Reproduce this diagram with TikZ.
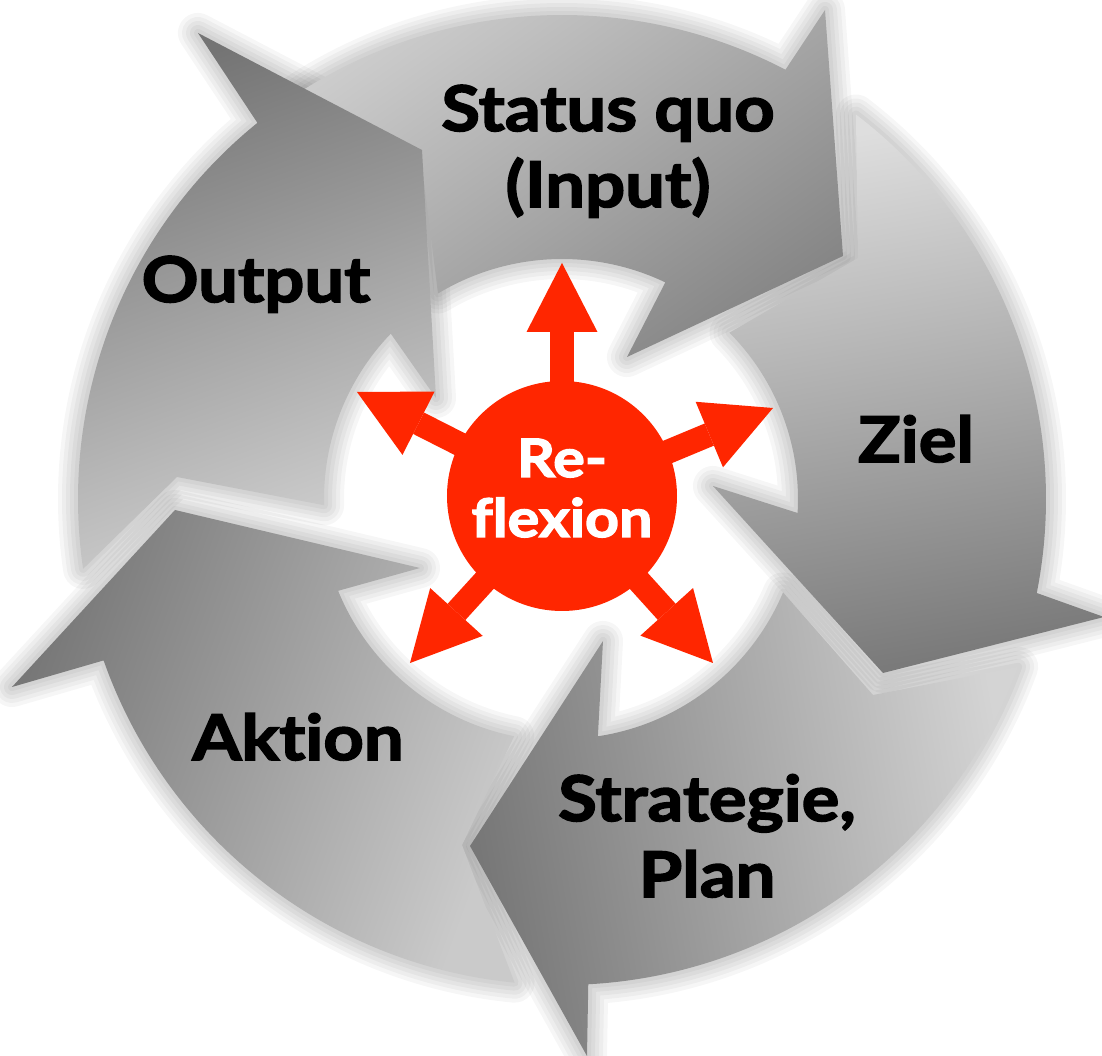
\documentclass[tikz,border=0pt]{standalone}
\usepackage{fontspec}
\setmainfont{Lato}[Ligatures=NoCommon, FakeStretch=1.12, BoldFeatures={FakeBold=2.5}]
\usetikzlibrary{arrows.meta}
\definecolor{refred}{RGB}{255,38,0}
\definecolor{sqlight}{HTML}{CDCDCD}\definecolor{sqdark}{HTML}{868686}
\definecolor{zilight}{HTML}{DEDEDE}\definecolor{zidark}{HTML}{7A7A7A}
\definecolor{stlight}{HTML}{D4D4D4}\definecolor{stdark}{HTML}{777777}
\definecolor{aklight}{HTML}{CACACA}\definecolor{akdark}{HTML}{777777}
\definecolor{oulight}{HTML}{CFCFCF}\definecolor{oudark}{HTML}{747474}
\newcommand{\pathSQ}{(124:484pt) arc[start angle=124, end angle=62.5, radius=484pt] -- (263,489) -- (281,243) -- (65,142) -- (64.5:240pt) arc[start angle=64.5, end angle=121.1, radius=240pt] -- (-142,349) -- cycle}
\newcommand{\pathZI}{(52.6:484pt) arc[start angle=52.6, end angle=-11.2, radius=484pt] -- (542,-118) -- (321,-174) -- (151,13) -- (-3.4:236pt) arc[start angle=-3.4, end angle=44.8, radius=236pt] -- (296,241) -- cycle}
\newcommand{\pathST}{(-20.2:486pt) arc[start angle=-20.2, end angle=-86.9, radius=486pt] -- (25,-557) -- (-92,-347) -- (41,-142) -- (-81.4:240pt) arc[start angle=-81.4, end angle=-22.9, radius=240pt] -- (311,-196) -- cycle}
\newcommand{\pathAK}{(-95.6:486pt) arc[start angle=-95.6, end angle=-160.6, radius=486pt] -- (-550,-188) -- (-387,-11) -- (-142,-69) -- (-157.7:242pt) arc[start angle=-157.7, end angle=-101.4, radius=242pt] -- (-100,-346) -- cycle}
\newcommand{\pathOU}{(188.3:484pt) arc[start angle=188.3, end angle=129, radius=484pt] -- (-364,466) -- (-140,349) -- (-126,101) -- (136:238pt) arc[start angle=136, end angle=181.5, radius=238pt] -- (-385,22) -- cycle}
\tikzset{
  glow/.style={draw=black, draw opacity=0.035, line join=round, line width=#1},
  label/.style={font=\fontsize{63}{76}\selectfont\bfseries, text=black, align=center, anchor=base, inner sep=0pt},
  reftext/.style={font=\fontsize{53}{60}\selectfont\bfseries, align=center, anchor=base, inner sep=0pt},
  redarrow/.style={draw=refred, line width=24pt, shorten <=-4pt,
    -{Triangle[width=71pt,length=69pt,line width=0pt]}}
}
\begin{document}
\begin{tikzpicture}[x=1pt,y=1pt]
\useasboundingbox (-562,-557) rectangle (540,499);
\fill[white] (-562,-557) rectangle (540,499);
% soft shadows
\foreach \w in {40,32,24,16,8}{
  \draw[glow=\w pt] \pathSQ;
  \draw[glow=\w pt] \pathZI;
  \draw[glow=\w pt] \pathST;
  \draw[glow=\w pt] \pathAK;
  \draw[glow=\w pt] \pathOU;
}
% cycle arrows
\shade[top color=sqlight, bottom color=sqdark, shading angle=35] \pathSQ;
\shade[top color=zilight, bottom color=zidark, shading angle=10] \pathZI;
\shade[top color=stlight, bottom color=stdark, shading angle=-80] \pathST;
\shade[top color=aklight, bottom color=akdark, shading angle=-110] \pathAK;
\shade[top color=oulight, bottom color=oudark, shading angle=-160] \pathOU;
% labels (base anchor = baseline of the last line)
\node[label] (lsq) at (46,292) {Status quo\\(Input)};
\node[label] (lzi) at (354,37) {Ziel};
\node[label] (lst) at (145,-398) {Strategie,\\Plan};
\node[label] (lak) at (-264,-261) {Aktion};
\node[label] (lou) at (-306,197) {Output};
% centre
\node[circle, fill=refred, minimum size=230pt, inner sep=0pt] (refl) at (0,3) {};
\coordinate (tU) at (0,236);
\coordinate (tUL) at (-205,107);
\coordinate (tUR) at (211,91);
\coordinate (tLR) at (151,-164);
\coordinate (tLL) at (-152,-164);
\draw[redarrow] (refl) -- (tU);
\draw[redarrow] (refl) -- (tUL);
\draw[redarrow] (refl) -- (tUR);
\draw[redarrow] (refl) -- (tLR);
\draw[redarrow] (refl) -- (tLL);
\node[reftext, text=white] (rtext) at (0,-38) {Re-\\flexion};
\end{tikzpicture}
\end{document}
